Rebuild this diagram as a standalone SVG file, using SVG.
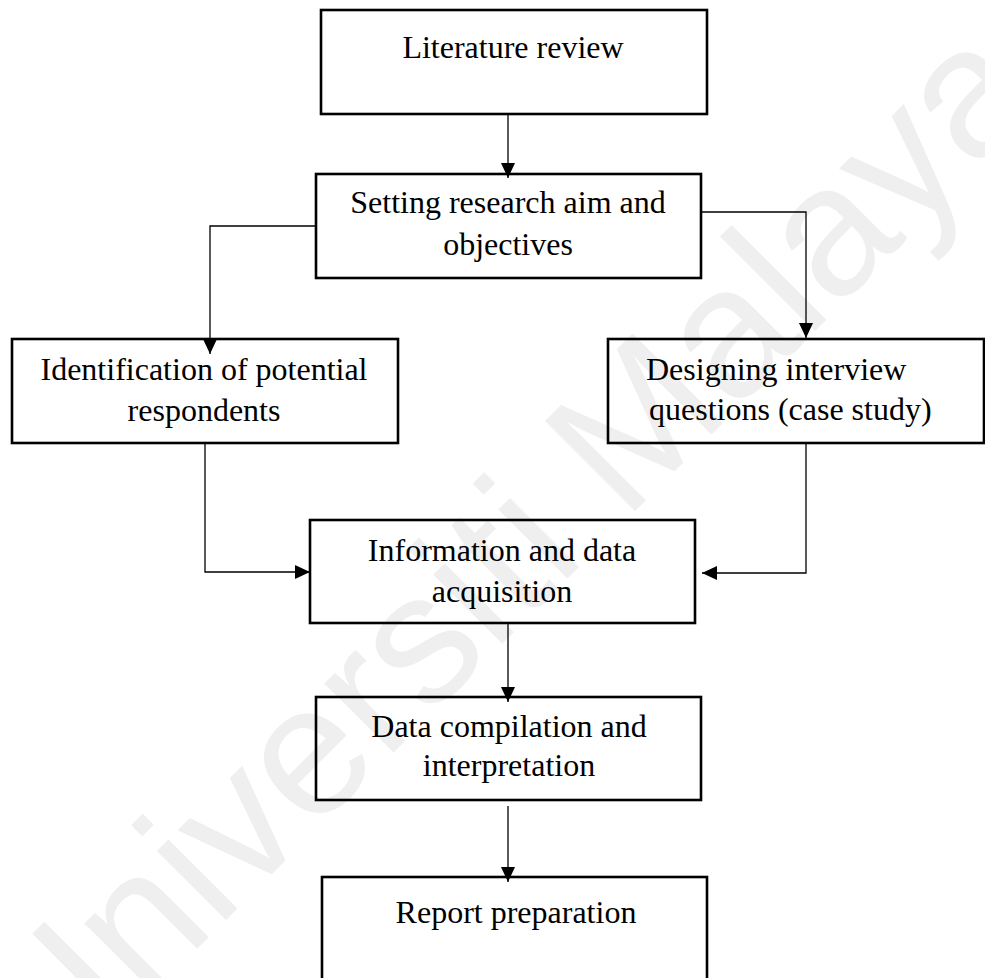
<svg xmlns="http://www.w3.org/2000/svg" width="985" height="978" viewBox="0 0 985 978">
  <style>
    .box { fill: none; stroke: #000; stroke-width: 2.6; }
    .lbl { font-family: "Liberation Serif", "Times New Roman", serif; font-size: 32px; fill: #000; text-anchor: middle; }
    .lbl-s { text-anchor: start; }
    .conn { fill: none; stroke: #000; stroke-width: 1.3; }
    .wm { font-family: "Liberation Sans", Arial, sans-serif; font-size: 185px; fill: #efefef; }
  </style>
  <defs>
    <marker id="arrow" markerUnits="userSpaceOnUse" markerWidth="15" markerHeight="14" refX="15" refY="7" orient="auto">
      <path d="M0,0 L15,7 L0,14 z" fill="#000"/>
    </marker>
  </defs>
  <rect width="985" height="978" fill="#fff"/>
  <text class="wm" transform="translate(50,1096) rotate(-45)">Universiti Malaya</text>

  <g id="connectors">
    <path class="conn" d="M508,114 V178" marker-end="url(#arrow)"/>
    <path class="conn" d="M316,226 H210 V354" marker-end="url(#arrow)"/>
    <path class="conn" d="M701,212 H806 V338" marker-end="url(#arrow)"/>
    <path class="conn" d="M205,443 V572 H310" marker-end="url(#arrow)"/>
    <path class="conn" d="M806,443 V573 H702" marker-end="url(#arrow)"/>
    <path class="conn" d="M508,623 V702" marker-end="url(#arrow)"/>
    <path class="conn" d="M508,806 V882" marker-end="url(#arrow)"/>
  </g>

  <g id="n-literature">
    <rect class="box" x="321" y="10" width="386" height="104"/>
    <text class="lbl" x="513" y="58">Literature review</text>
  </g>
  <g id="n-setting">
    <rect class="box" x="316" y="174" width="385" height="104"/>
    <text class="lbl" x="508" y="213">Setting research aim and</text>
    <text class="lbl" x="508" y="255">objectives</text>
  </g>
  <g id="n-identification">
    <rect class="box" x="12" y="339" width="386" height="104"/>
    <text class="lbl" x="204" y="380">Identification of potential</text>
    <text class="lbl" x="204" y="421">respondents</text>
  </g>
  <g id="n-designing">
    <rect class="box" x="608" y="339" width="376" height="104"/>
    <text class="lbl lbl-s" x="646" y="380">Designing interview</text>
    <text class="lbl lbl-s" x="649" y="420">questions (case study)</text>
  </g>
  <g id="n-information">
    <rect class="box" x="310" y="520" width="385" height="103"/>
    <text class="lbl" x="502" y="561">Information and data</text>
    <text class="lbl" x="502" y="602">acquisition</text>
  </g>
  <g id="n-compilation">
    <rect class="box" x="316" y="697" width="385" height="103"/>
    <text class="lbl" x="509" y="737">Data compilation and</text>
    <text class="lbl" x="509" y="776">interpretation</text>
  </g>
  <g id="n-report">
    <rect class="box" x="322" y="877" width="385" height="120"/>
    <text class="lbl" x="516" y="923">Report preparation</text>
  </g>
</svg>
